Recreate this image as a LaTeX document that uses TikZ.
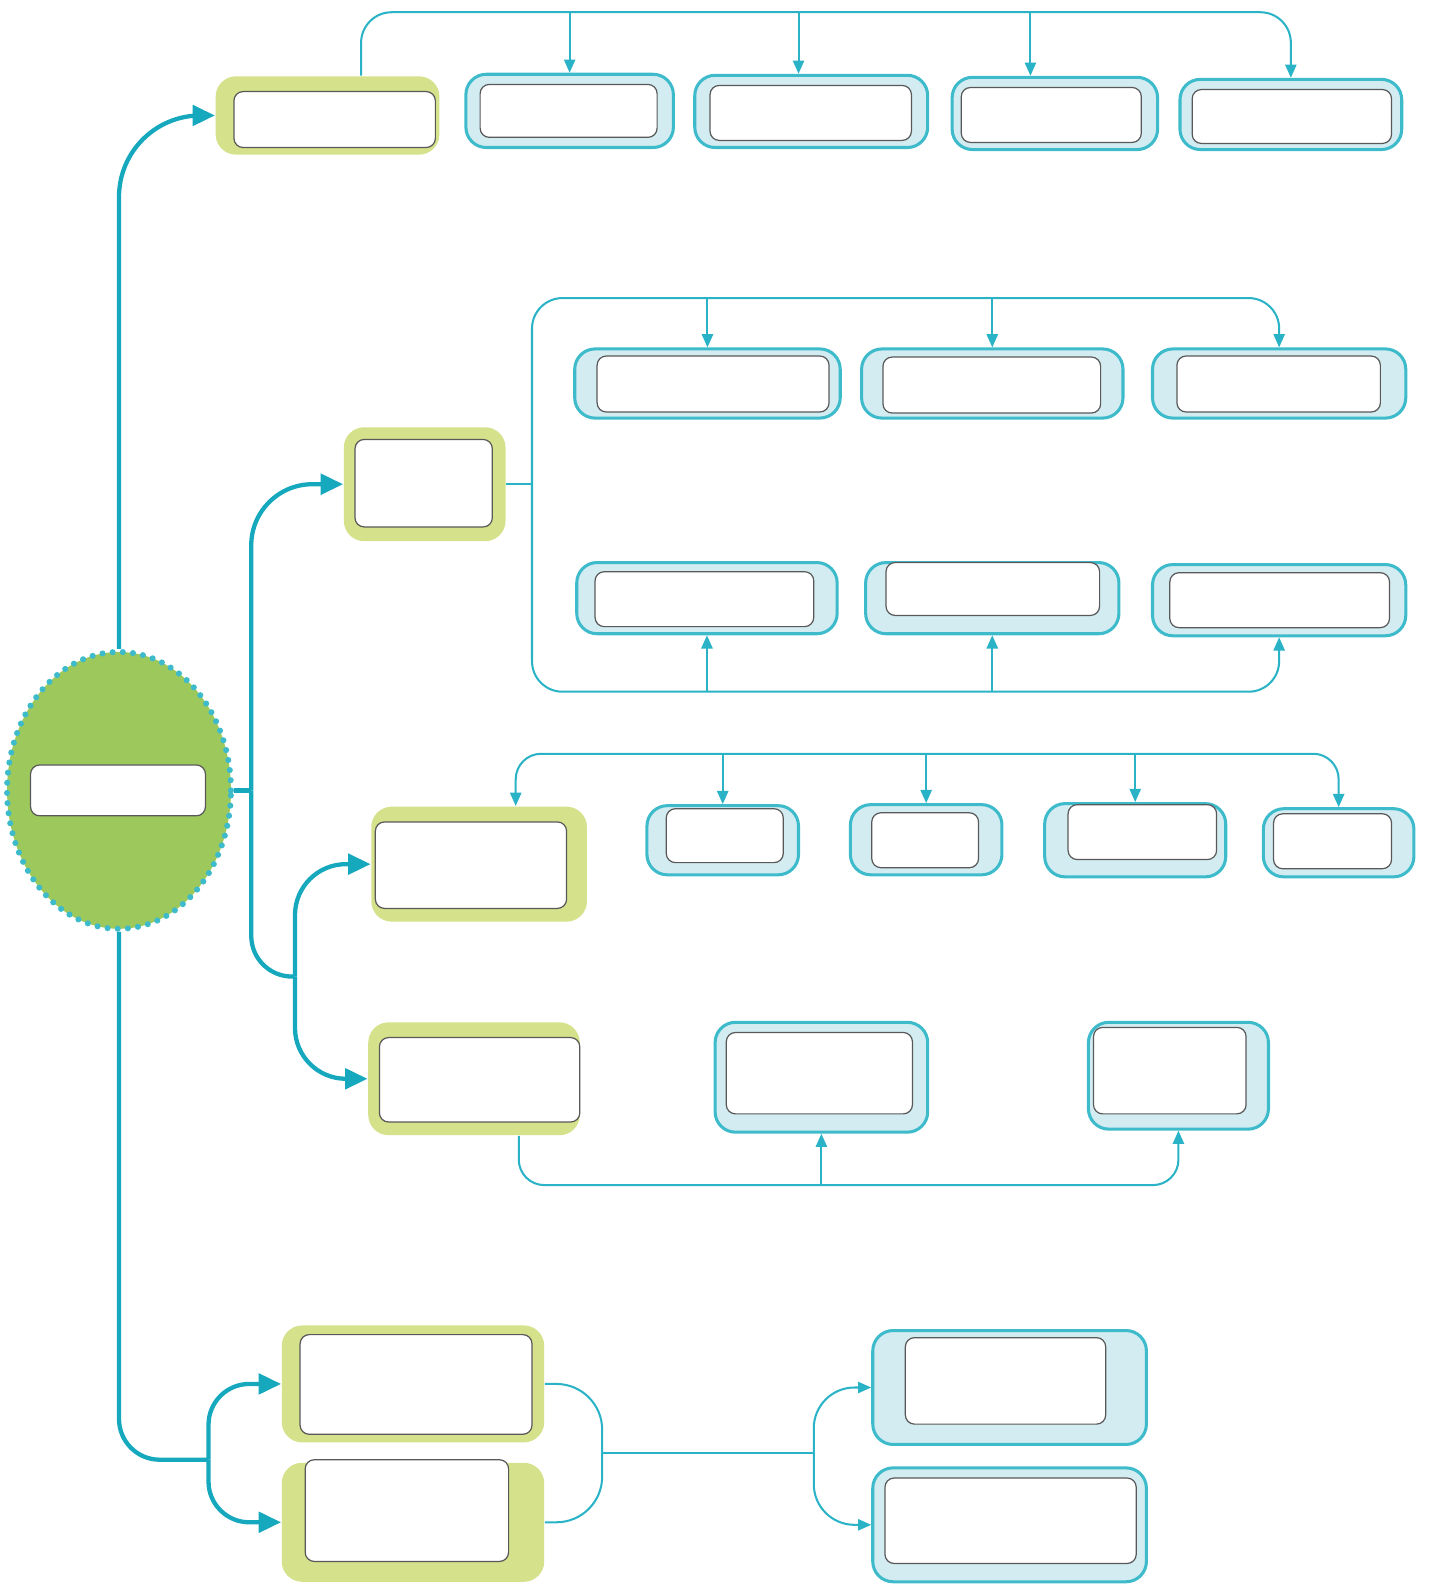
\documentclass[tikz,border=0pt]{standalone}
\usepackage{tikz}
\usetikzlibrary{positioning}
\usetikzlibrary{shapes.geometric}
\usetikzlibrary{arrows.meta}
\usetikzlibrary{fit}
\usepackage{xcolor}

\definecolor{leaf}{HTML}{D5E18B}
\definecolor{rootgreen}{HTML}{9DC95C}
\definecolor{sky}{HTML}{D3ECF2}
\definecolor{teal}{HTML}{3DBBCB}
\definecolor{wire}{HTML}{2AB3C6}
\definecolor{trunkc}{HTML}{16A8BD}

\tikzset{
    greenbox/.style={fill=leaf, rounded corners=0.2cm, inner sep=0pt},
    bluebox/.style={fill=sky, draw=teal, line width=0.03cm, rounded corners=0.2cm, inner sep=0pt},
    whitebox/.style={fill=white, draw=black!65, line width=0.012cm, rounded corners=0.09cm, inner sep=0pt},
    trunk/.style={draw=trunkc, line width=0.042cm},
    link/.style={draw=wire, line width=0.02cm},
    bigtip/.tip={Triangle[length=0.22cm,width=0.2cm]},
    smalltip/.tip={Triangle[length=0.13cm,width=0.11cm]}
}

\begin{document}
\begin{tikzpicture}[x=0.01cm, y=-0.01cm]
    \useasboundingbox (0,0) rectangle (1407,1568);

    % Root
    \node[ellipse, fill=rootgreen, draw=teal, line width=0.06cm, line cap=round,
          dash pattern=on 0pt off 0.1cm, minimum width=2.2cm, minimum height=2.72cm,
          inner sep=0pt] (root) at (117,777) {};
    \node[whitebox, fit={(30,752) (202,802)}] (roott) {};

    % Main boxes
    \foreach \n/\a/\b/\c/\d/\e/\f/\g/\h in {
        g1/212/75/432/152/230/90/428/145,
        g2/338/420/497/532/349/432/484/518,
        g3/365/793/577/906/369/808/557/893,
        g4/362/1005/570/1116/373/1020/570/1103,
        g5/277/1303/535/1418/295/1312/523/1410,
        g6/277/1438/535/1555/300/1435/500/1535} {
        \node[greenbox, fit={(\a,\b) (\c,\d)}] (\n) {};
        \node[whitebox, fit={(\e,\f) (\g,\h)}] (\n t) {};
    }

    % Sub boxes
    \foreach \n/\a/\b/\c/\d/\e/\f/\g/\h in {
        b11/458/73/662/145/472/83/646/135,
        b12/683/74/912/145/698/84/896/138,
        b13/936/76/1138/147/945/86/1122/140,
        b14/1160/78/1378/147/1172/88/1368/141,
        b21/565/343/826/411/587/350/815/405,
        b22/847/343/1104/411/868/351/1082/406,
        b23/1133/343/1382/411/1157/350/1357/405,
        b24/567/553/823/623/585/562/800/616,
        b25/851/553/1100/623/871/553/1081/605,
        b26/1133/555/1382/625/1150/563/1366/617,
        b31/636/792/785/860/655/795/770/848,
        b32/836/791/985/860/857/799/962/853,
        b33/1027/790/1205/862/1050/791/1196/845,
        b34/1242/795/1390/862/1252/800/1368/854,
        b41/703/1005/912/1113/714/1015/897/1095,
        b42/1070/1005/1247/1110/1075/1010/1225/1095,
        b51/858/1308/1127/1420/890/1315/1087/1400,
        b52/858/1443/1127/1555/870/1453/1117/1537} {
        \node[bluebox, fit={(\a,\b) (\c,\d)}] (\n) {};
        \node[whitebox, fit={(\e,\f) (\g,\h)}] (\n t) {};
    }

    % Trunk
    \coordinate (j1) at (247,777);
    \coordinate (j2) at (290,960);
    \coordinate (s5) at (205,1435);
    \draw[trunk, rounded corners=0.8cm, -bigtip] (root.north) |- (g1.west);
    \draw[trunk] (root.east) -- (j1);
    \draw[trunk, rounded corners=0.6cm, -bigtip] (j1) |- (g2.west);
    \draw[trunk, rounded corners=0.4cm] (j1) |- (j2);
    \draw[trunk, rounded corners=0.5cm, -bigtip] (j2) |- (g3.west);
    \draw[trunk, rounded corners=0.5cm, -bigtip] (j2) |- (g4.west);
    \draw[trunk, rounded corners=0.4cm] (root.south) |- (s5);
    \draw[trunk, rounded corners=0.4cm, -bigtip] (s5) |- (g5.west);
    \draw[trunk, rounded corners=0.4cm, -bigtip] (s5) |- (g6.west);

    % Group 1
    \coordinate (t1) at (355,12);
    \coordinate (d12) at (785,12);
    \coordinate (d13) at (1013,12);
    \draw[link, rounded corners=0.3cm, -smalltip] (g1.north -| t1) -- (t1) -| (b14.north);
    \draw[link, -smalltip] (b11.north |- t1) -- (b11.north);
    \draw[link, -smalltip] (d12) -- (d12 |- b12.north);
    \draw[link, -smalltip] (d13) -- (d13 |- b13.north);

    % Group 2
    \coordinate (h2a) at (523,293);
    \coordinate (h2b) at (523,680);
    \draw[link] (g2.east) -- (g2.east -| h2a);
    \draw[link, rounded corners=0.3cm, smalltip-smalltip] (b26.south) |- (h2b) -- (h2a) -| (b23.north);
    \foreach \b in {b21,b22}
        \draw[link, -smalltip] (\b.north |- h2a) -- (\b.north);
    \foreach \b in {b24,b25}
        \draw[link, -smalltip] (\b.south |- h2b) -- (\b.south);

    % Group 3
    \coordinate (t3) at (507,741);
    \draw[link, rounded corners=0.25cm, smalltip-smalltip] (g3.north -| t3) -- (t3) -| (b34.north);
    \foreach \b in {b31,b32,b33}
        \draw[link, -smalltip] (\b.north |- t3) -- (\b.north);

    % Group 4
    \coordinate (t4) at (510,1165);
    \draw[link, rounded corners=0.25cm, -smalltip] (g4.south -| t4) -- (t4) -| (b42.south);
    \draw[link, -smalltip] (b41.south |- t4) -- (b41.south);

    % Group 5
    \coordinate (m5) at (592,1428);
    \coordinate (n5) at (800,1428);
    \draw[link, rounded corners=0.45cm] (g5.east) -| (m5);
    \draw[link, rounded corners=0.45cm] (g6.east) -| (m5);
    \draw[link] (m5) -- (n5);
    \draw[link, rounded corners=0.4cm, -smalltip] (n5) |- (b51.west);
    \draw[link, rounded corners=0.4cm, -smalltip] (n5) |- (b52.west);
\end{tikzpicture}
\end{document}
